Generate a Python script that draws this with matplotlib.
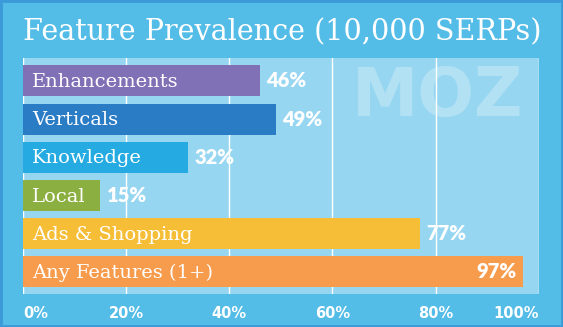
import matplotlib
matplotlib.use("Agg")
import matplotlib.pyplot as plt
from matplotlib.patches import Rectangle

# --- DATA ---
categories = ["Enhancements", "Verticals", "Knowledge", "Local", "Ads & Shopping", "Any Features (1+)"]
values = [46, 49, 32, 15, 77, 97]
bar_colors = ["#8070B5", "#2A7CC5", "#25AAE1", "#8BAF40", "#F6BE37", "#F79C4D"]
tick_values = [0, 20, 40, 60, 80, 100]
tick_labels = ["0%", "20%", "40%", "60%", "80%", "100%"]
title = "Feature Prevalence (10,000 SERPs)"

# --- FIGURE ---
W, H = 563, 327
fig = plt.figure(figsize=(W / 100, H / 100), dpi=100)
fig.patch.set_facecolor("#53BCE7")
fig.patches.append(Rectangle((0, 0), 1, 1, transform=fig.transFigure,
                             fill=False, edgecolor="#3A9BD8", lw=3.5))

ax = fig.add_axes([23 / W, (H - 294.4) / H, 515.7 / W, 236 / H])
ax.set_facecolor("#97D6F1")
for s in ax.spines.values():
    s.set_visible(False)

ax.set_xlim(0, 100)
ax.set_ylim(5.59, -0.59)
ax.set_xticks(tick_values)
ax.set_yticks([])
ax.tick_params(length=0, labelbottom=False)
ax.grid(axis="x", color="white", lw=1)
ax.set_axisbelow(True)

# watermark
ax.text(80.3, 0.42, "MOZ", color="white", alpha=0.28, fontsize=48,
        fontweight="bold", family="DejaVu Sans", ha="center", va="center", zorder=1)

y = list(range(len(categories)))
ax.barh(y, values, height=0.81, color=bar_colors, zorder=2)

for i, (cat, v) in enumerate(zip(categories, values)):
    ax.text(1.8, i + 0.03, cat, color="white", fontsize=14, family="DejaVu Serif",
            ha="left", va="center", zorder=3)
    if v > 90:
        ax.text(v - 1.3, i, f"{v}%", color="white", fontsize=14.5, fontweight="heavy",
                family="Lato", ha="right", va="center", zorder=3)
    else:
        ax.text(v + 1.2, i, f"{v}%", color="white", fontsize=14.5, fontweight="heavy",
                family="Lato", ha="left", va="center", zorder=3)

# x tick labels (ends pulled inward as in the original)
for tv, tl in zip(tick_values, tick_labels):
    ha = "left" if tv == tick_values[0] else ("right" if tv == tick_values[-1] else "center")
    ax.text(tv, -0.08, tl, transform=ax.get_xaxis_transform(), color="white",
            fontsize=10.5, fontweight="bold", family="DejaVu Sans", ha=ha, va="center")

fig.text(23 / W, 1 - 32 / H, title, color="white", fontsize=20.6,
         family="DejaVu Serif", ha="left", va="center")

fig.savefig("out.png", dpi=100, facecolor=fig.get_facecolor())
